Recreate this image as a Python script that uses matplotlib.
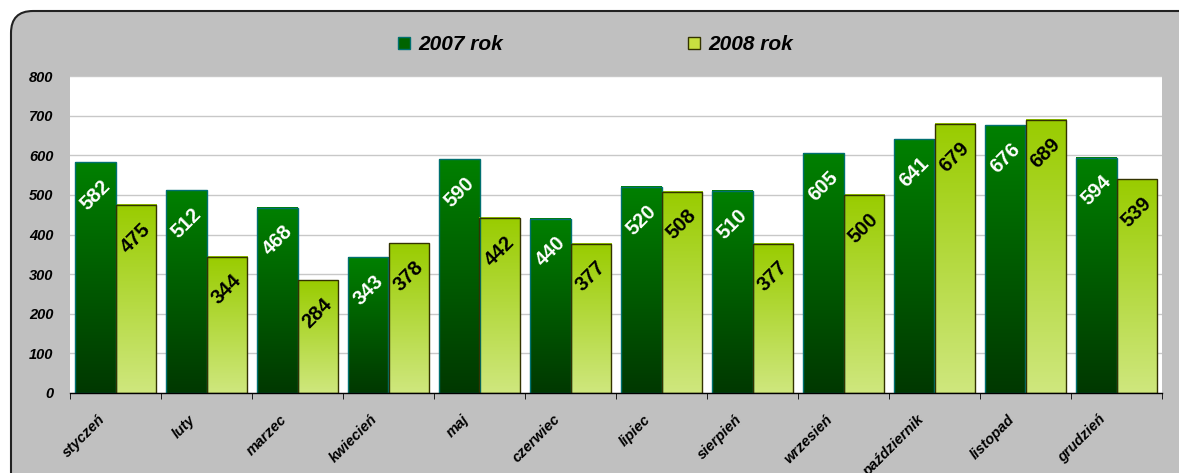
import numpy as np
import matplotlib
matplotlib.use('Agg')
import matplotlib.pyplot as plt
from matplotlib.patches import FancyBboxPatch, Rectangle
from matplotlib.colors import LinearSegmentedColormap
from matplotlib.transforms import ScaledTranslation

# dane
miesiace = ['styczeń', 'luty', 'marzec', 'kwiecień', 'maj', 'czerwiec',
            'lipiec', 'sierpień', 'wrzesień', 'październik', 'listopad', 'grudzień']
rok_2007 = [582, 512, 468, 343, 590, 440, 520, 510, 605, 641, 676, 594]
rok_2008 = [475, 344, 284, 378, 442, 377, 508, 377, 500, 679, 689, 539]
serie = ['2007 rok', '2008 rok']
y_ticks = [0, 100, 200, 300, 400, 500, 600, 700, 800]

plt.rcParams['font.family'] = ['Liberation Sans', 'DejaVu Sans']

W, H = 1179, 473
fig = plt.figure(figsize=(W / 100, H / 100), dpi=100)
fig.patch.set_facecolor('white')

# szare tlo z zaokraglonym rogiem
tlo = FancyBboxPatch((11, -40), 1240, H - 11 + 40,
                     boxstyle='round,pad=0,rounding_size=22',
                     transform=None, facecolor='#c0c0c0',
                     edgecolor='#222222', linewidth=1.5, zorder=0)
fig.patches.append(tlo)

ax = fig.add_axes([70 / W, 1 - 393 / H, (1162 - 70) / W, (393 - 76) / H])
ax.set_facecolor('white')
ax.set_zorder(1)

# gradienty slupkow
cmap_07 = LinearSegmentedColormap.from_list('c07', ['#003800', '#008000'])
cmap_08 = LinearSegmentedColormap.from_list('c08', ['#cfe77e', '#99cc00'])
grad = np.linspace(0, 1, 256).reshape(-1, 1)

x = np.arange(len(miesiace))
szer = 0.44


def rysuj_slupki(wartosci, przes, cmap, krawedz, kolor_txt):
    for xi, v in zip(x, wartosci):
        x0 = xi + przes - szer / 2
        ax.imshow(grad, cmap=cmap, origin='lower', aspect='auto',
                  extent=(x0, x0 + szer, 0, v), zorder=2, interpolation='bilinear')
        ax.add_patch(Rectangle((x0, 0), szer, v, facecolor='none',
                               edgecolor=krawedz, linewidth=1.0, zorder=3))
        ax.annotate(str(v), (xi + przes, v), xytext=(0, -33), textcoords='offset pixels',
                    ha='center', va='center', rotation=45, fontsize=14.5,
                    fontweight='bold', color=kolor_txt, zorder=4)


rysuj_slupki(rok_2007, -szer / 2, cmap_07, '#007070', 'white')
rysuj_slupki(rok_2008, szer / 2, cmap_08, '#333300', 'black')

ax.set_xlim(-0.5, len(miesiace) - 0.5)
ax.set_ylim(0, 800)
ax.set_yticks(y_ticks)
ax.set_yticklabels([str(t) for t in y_ticks], fontsize=10.5, fontweight='bold', style='italic')
ax.tick_params(axis='y', length=0, pad=12)
ax.yaxis.grid(True, color='#c8c8c8', linewidth=1.0)
ax.set_axisbelow(True)

for s in ['top', 'right', 'left']:
    ax.spines[s].set_visible(False)
ax.spines['bottom'].set_color('black')
ax.spines['bottom'].set_linewidth(1.0)
ax.spines['bottom'].set_zorder(5)

ax.set_xticks(x)
ax.set_xticklabels(miesiace, fontsize=10.5, fontweight='bold', style='italic',
                   rotation=45, ha='right', va='top', rotation_mode='anchor')
ax.set_xticks(np.arange(-0.5, len(miesiace)), minor=True)
ax.tick_params(axis='x', which='major', length=0, pad=14)
ax.tick_params(axis='x', which='minor', length=4, direction='out', color='black')
przes = ScaledTranslation(-18 / 100, 0, fig.dpi_scale_trans)
for lab in ax.get_xticklabels():
    lab.set_transform(lab.get_transform() + przes)

# legenda
for (lx, kolor, kraw), nazwa in zip([(398, '#006400', '#007070'), (688, '#c8e040', '#333300')], serie):
    fig.patches.append(Rectangle((lx, H - 49), 12, 12, transform=None,
                                 facecolor=kolor, edgecolor=kraw, linewidth=1.0, zorder=2))
    fig.text((lx + 20) / W, 1 - 50 / H, nazwa, fontsize=15, fontweight='bold',
             style='italic', va='baseline', ha='left')

fig.savefig('out.png', dpi=100)
